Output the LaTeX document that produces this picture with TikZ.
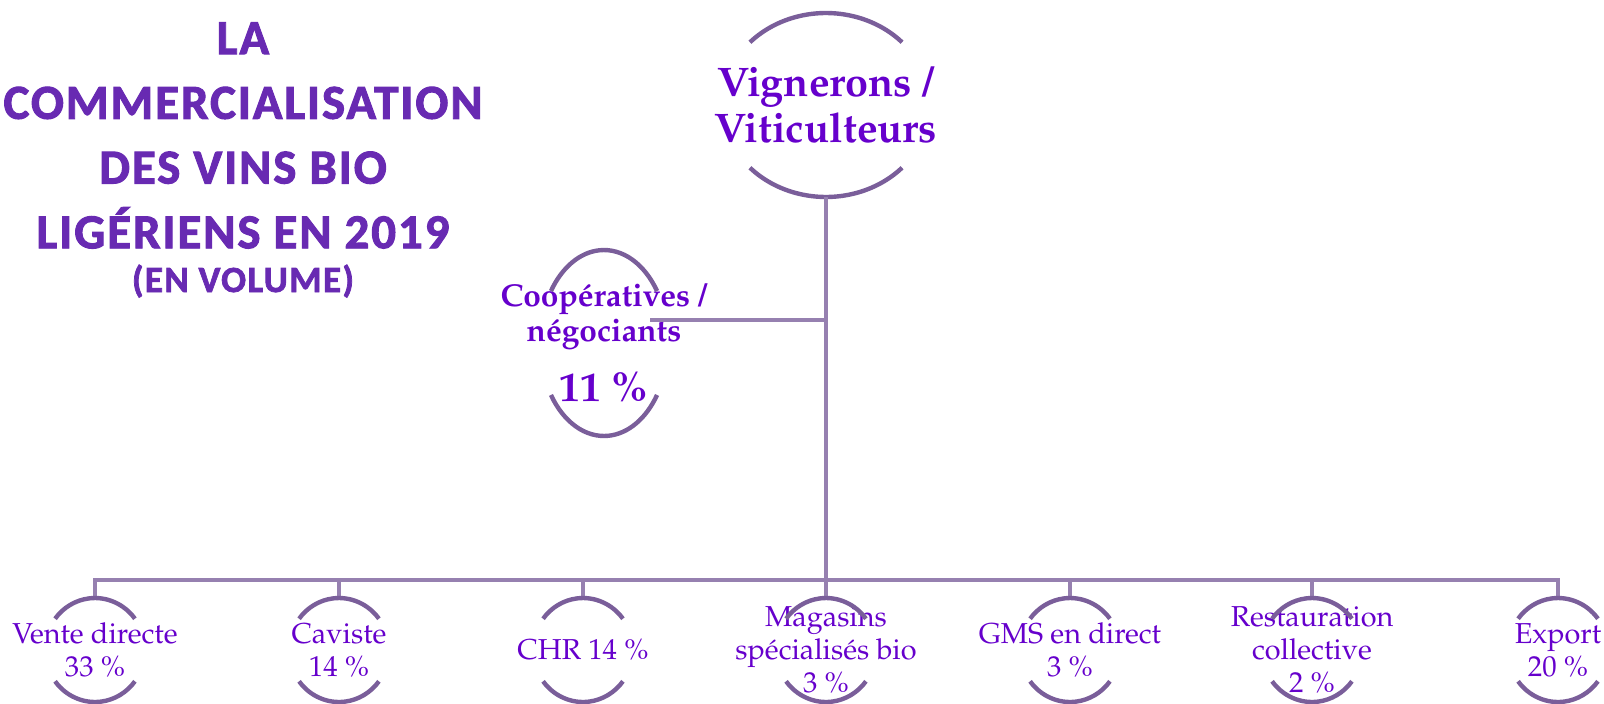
\documentclass[tikz,border=0pt]{standalone}
\usepackage[T1]{fontenc}
\usepackage{fontspec}
\usepackage{tikz}
\newfontfamily\titlefont[BoldFeatures = {FakeBold = 2}, LetterSpace = 4]{Carlito}
\newcommand\pal{\fontencoding{T1}\fontfamily{ppl}\selectfont}

\definecolor{vinviolet}{RGB}{102,0,204}
\definecolor{liencol}{RGB}{150,128,176}
\definecolor{anneaucol}{RGB}{122,94,154}
\definecolor{titrecol}{RGB}{104,42,178}

\tikzset{
	link/.style = {draw = liencol, line width = 2.8pt},
	ring/.style = {draw = anneaucol, line width = 2.5pt},
	canal/.style = {text = vinviolet, align = center, inner sep = 0pt, minimum width = 2cm, minimum height = 2.08cm, font = {\pal\fontsize{16.4pt}{18.7pt}\selectfont}},
	titre/.style = {text = titrecol, align = center, inner sep = 0pt, font = {\titlefont\bfseries\fontsize{27.8pt}{36.85pt}\selectfont}}
}

% two arcs round a node: node, x radius, y radius, gap angle
\newcommand\anneau[4]{%
	\draw[ring] ([shift = {(#4:#2 and #3)}]#1.center) arc[start angle = #4, end angle = {180-#4}, x radius = #2, y radius = #3];
	\draw[ring] ([shift = {({180+#4}:#2 and #3)}]#1.center) arc[start angle = {180+#4}, end angle = {360-#4}, x radius = #2, y radius = #3];
}

\begin{document}
\begin{tikzpicture}[x = 0.02cm, y = -0.02cm]
\useasboundingbox (0,0) rectangle (1604,703);

\node[titre, anchor = north] (titre) at (243,22) {LA\\COMMERCIALISATION\\DES VINS BIO\\LIGÉRIENS EN 2019};
\node[titre, anchor = base, font = {\titlefont\bfseries\fontsize{21pt}{25pt}\selectfont}] (volume) at (243,292) {(EN VOLUME)};

\node[canal, font = {\pal\bfseries\fontsize{23.5pt}{26pt}\selectfont}, minimum width = 4.16cm, minimum height = 3.68cm] (vignerons) at (826,105) {Vignerons /\\Viticulteurs};
\anneau{vignerons}{2.08cm}{1.84cm}{43}

\node[canal, font = {\pal\bfseries\fontsize{18pt}{19.8pt}\selectfont}, minimum height = 0pt] (coop) at (604,343) {Coopératives /\\négociants\\[12pt]{\fontsize{23.5pt}{26pt}\selectfont 11 \%}};
\anneau{coop}{1.28cm}{1.86cm}{34}

\coordinate (bus) at (826,580);
\coordinate (coopIn) at (650,320);

\draw[link] (vignerons.south) -- (bus);
\draw[link] (vignerons.south |- coopIn) -- (coopIn);

\foreach \x/\nom/\txt in {95/vente/{Vente directe\\33 \%}, 339/caviste/{Caviste\\14 \%}, 583/chr/{CHR 14 \%}, 826/magasins/{Magasins\\spécialisés bio\\3 \%}, 1070/gms/{GMS en direct\\3 \%}, 1312/resto/{Restauration\\collective\\2 \%}, 1558/export/{Export\\20 \%}}
{
	\node[canal] (\nom) at (\x,650) {\txt};
	\draw[link] (bus) -| (\nom.north);
	\anneau{\nom}{1cm}{1.04cm}{37}
}
\end{tikzpicture}
\end{document}
